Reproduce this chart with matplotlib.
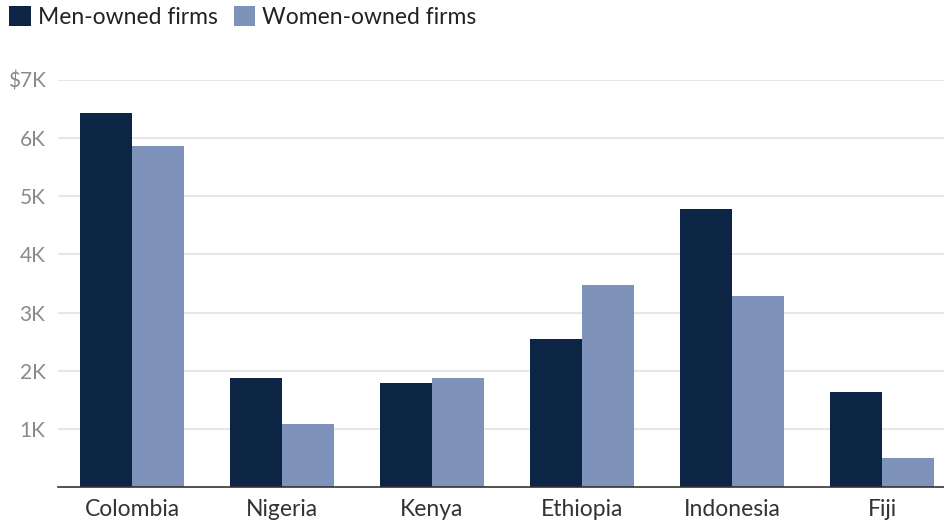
import numpy as np
import matplotlib.pyplot as plt

plt.rcParams['font.family'] = ['Lato', 'DejaVu Sans']

countries = ['Colombia', 'Nigeria', 'Kenya', 'Ethiopia', 'Indonesia', 'Fiji']
men = [6430, 1880, 1790, 2550, 4780, 1630]
women = [5860, 1090, 1880, 3470, 3290, 500]
yticks = [1000, 2000, 3000, 4000, 5000, 6000, 7000]
ylabels = ['1K', '2K', '3K', '4K', '5K', '6K', '$7K']

navy = '#0c2544'
steel = '#7f93ba'

W, H = 944, 521
fig = plt.figure(figsize=(W / 100, H / 100), dpi=100)
ax = fig.add_axes([58 / W, 34 / H, (W - 58) / W, (487 - 80) / H])

x = np.arange(len(countries))
bw = 0.347
ax.bar(x - bw / 2, men, bw, color=navy, label='Men-owned firms', zorder=3)
ax.bar(x + bw / 2, women, bw, color=steel, label='Women-owned firms', zorder=3)

ax.set_xlim(-0.4933, 5.413)
ax.set_ylim(0, 7000)
ax.set_yticks(yticks)
ax.set_yticklabels(ylabels)
ax.set_xticks(x)
ax.set_xticklabels(countries)

ax.grid(axis='y', color='#e3e3e3', linewidth=1.2, zorder=0)
for s in ['top', 'right', 'left']:
    ax.spines[s].set_visible(False)
ax.spines['bottom'].set_color('#333333')
ax.spines['bottom'].set_linewidth(1.2)
ax.spines['bottom'].set_zorder(4)

ax.tick_params(axis='y', length=0, pad=9, labelsize=15, labelcolor='#8a8a8a')
ax.tick_params(axis='x', length=0, pad=9, labelsize=16.5, labelcolor='#333333')

fig.legend(loc='upper left', bbox_to_anchor=(9 / W, 1 - 6 / H), ncol=2,
           frameon=False, fontsize=16.5, handlelength=0.95, handleheight=0.95,
           handletextpad=0.3, columnspacing=0.7, borderaxespad=0,
           borderpad=0, labelcolor='#222222')

fig.savefig('out.png', dpi=100)
